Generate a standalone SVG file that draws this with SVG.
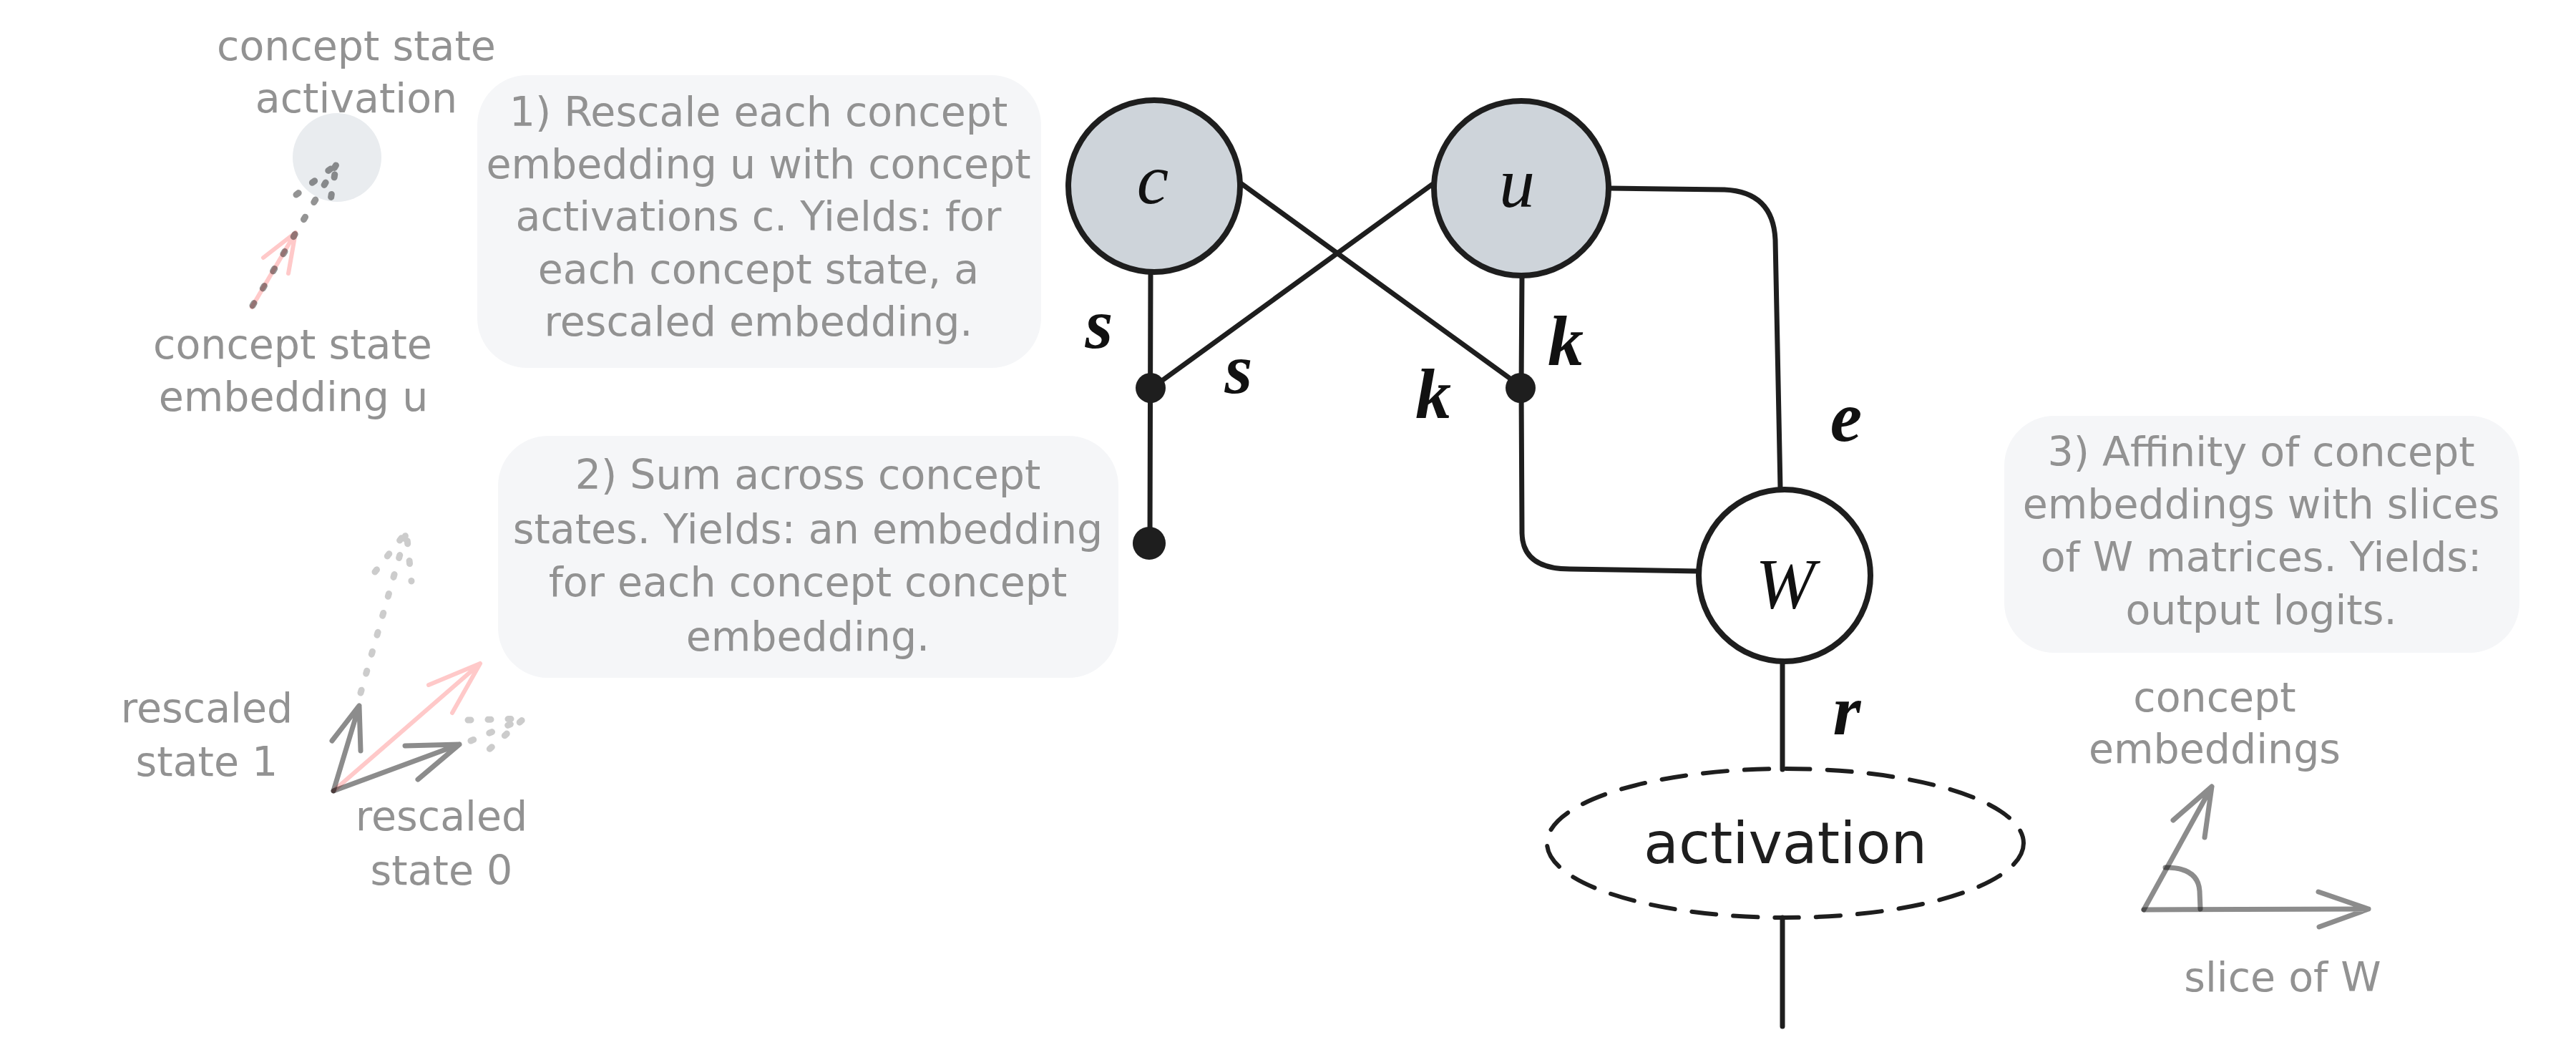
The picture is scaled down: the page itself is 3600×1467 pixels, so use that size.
<svg xmlns="http://www.w3.org/2000/svg" width="3600" height="1467" viewBox="0 0 3600 1467">
<style>
.note{font-family:"DejaVu Sans","Noto Sans",sans-serif;font-size:57px;fill:#929292;text-anchor:middle}
.big{font-family:"DejaVu Sans","Noto Sans",sans-serif;font-size:80px;fill:#1e1e1e;text-anchor:middle}
.box{fill:#f5f6f8;stroke:none}
.ln{fill:none;stroke:#1e1e1e;stroke-width:7;stroke-linecap:round;stroke-linejoin:round}
.node{stroke:#1e1e1e;stroke-width:8}
.dot{fill:#1e1e1e}
.math{font-family:"Liberation Serif","DejaVu Serif",serif;font-style:italic;font-size:100px;fill:#111;text-anchor:middle}
.mb{font-weight:bold}
.vec{fill:none;stroke:#000;stroke-opacity:0.45;stroke-width:7;stroke-linecap:round;stroke-linejoin:round}
.pink{fill:none;stroke:#ff7f7f;stroke-opacity:0.42;stroke-width:6;stroke-linecap:round;stroke-linejoin:round}
.dotsL{fill:none;stroke:#000;stroke-opacity:0.2;stroke-width:9;stroke-linecap:round;stroke-dasharray:4 24}
.dotsD{fill:none;stroke:#000;stroke-opacity:0.42;stroke-width:9;stroke-linecap:round;stroke-dasharray:4 24}
</style>

<g id="sketch-activation">
  <circle cx="471" cy="220" r="62" fill="#e9ecef"/>
  <path class="pink" d="M352,429 L413,325 M368,360 L413,325 L403,382"/>
  <path class="dotsD" d="M353,427 L470,230 M414,272 L470,230 L459,298"/>
  <text class="note" x="498" y="84">concept state</text>
  <text class="note" x="498" y="157">activation</text>
  <text class="note" x="409" y="501">concept state</text>
  <text class="note" x="410" y="574">embedding u</text>
</g>

<g id="note-1">
  <rect class="box" x="667" y="105" width="788" height="409" rx="70"/>
  <text class="note" x="1060" y="176">1) Rescale each concept</text>
  <text class="note" x="1060" y="249">embedding u with concept</text>
  <text class="note" x="1060" y="322">activations c. Yields: for</text>
  <text class="note" x="1060" y="396">each concept state, a</text>
  <text class="note" x="1060" y="469">rescaled embedding.</text>
</g>

<g id="note-2">
  <rect class="box" x="696" y="609" width="867" height="338" rx="70"/>
  <text class="note" x="1129" y="683">2) Sum across concept</text>
  <text class="note" x="1129" y="759">states. Yields: an embedding</text>
  <text class="note" x="1129" y="833">for each concept concept</text>
  <text class="note" x="1129" y="909">embedding.</text>
</g>

<g id="note-3">
  <rect class="box" x="2801" y="581" width="720" height="331" rx="70"/>
  <text class="note" x="3160" y="651">3) Affinity of concept</text>
  <text class="note" x="3160" y="724">embeddings with slices</text>
  <text class="note" x="3160" y="798">of W matrices. Yields:</text>
  <text class="note" x="3160" y="872">output logits.</text>
</g>

<g id="sketch-sum">
  <path class="dotsL" d="M504,968 L568,743 M524,799 L568,743 L575,812"/>
  <path class="dotsL" d="M654,1006 L732,1004 M658,1035 L732,1004 L678,1052"/>
  <path class="pink" d="M466,1105 L671,927 M599,957 L671,927 L632,996"/>
  <path class="vec" d="M466,1105 L502,986 M464,1035 L502,986 L504,1049"/>
  <path class="vec" d="M466,1105 L642,1040 M566,1042 L642,1040 L584,1089"/>
  <text class="note" x="289" y="1009">rescaled</text>
  <text class="note" x="289" y="1084">state 1</text>
  <text class="note" x="617" y="1160">rescaled</text>
  <text class="note" x="617" y="1236">state 0</text>
</g>

<g id="sketch-affinity">
  <path class="vec" d="M2996,1271 L3310,1270 M3240,1246 L3310,1270 L3241,1295"/>
  <path class="vec" d="M2996,1271 L3091,1099 M3037,1146 L3091,1099 L3081,1170"/>
  <path class="vec" d="M3026,1212 Q3072,1212 3074,1245 L3075,1270"/>
  <text class="note" x="3095" y="994">concept</text>
  <text class="note" x="3095" y="1066">embeddings</text>
  <text class="note" x="3190" y="1385">slice of W</text>
</g>

<g id="connectors">
  <path class="ln" d="M1608,381 L1607,759"/>
  <path class="ln" d="M2001,258 L1625,531"/>
  <path class="ln" d="M1734,256 L2123,538"/>
  <path class="ln" d="M2127,384 L2126,542"/>
  <path class="ln" d="M2126,542 L2127,745 Q2128,795 2194,795 L2372,798"/>
  <path class="ln" d="M2250,263 L2410,265 Q2478,268 2481,335 L2488,682"/>
  <path class="ln" d="M2491,926 L2491,1075"/>
  <path class="ln" d="M2491,1282 L2491,1434"/>
  <circle class="dot" cx="1608" cy="542" r="21"/>
  <circle class="dot" cx="2125" cy="542" r="21"/>
  <circle class="dot" cx="1606" cy="759" r="23"/>
  <text class="math mb" x="1536" y="486">s</text>
  <text class="math mb" x="1731" y="549">s</text>
  <text class="math mb" x="2003" y="584">k</text>
  <text class="math mb" x="2188" y="510">k</text>
  <text class="math mb" x="2580" y="616">e</text>
  <text class="math mb" x="2581" y="1026">r</text>
</g>

<g id="node-c">
  <circle class="node" cx="1613" cy="260" r="120" fill="#ced4da"/>
  <text class="math" x="1611" y="284" font-size="108">c</text>
</g>

<g id="node-u">
  <circle class="node" cx="2126" cy="263" r="122" fill="#ced4da"/>
  <text class="math" x="2120" y="289" font-size="108">u</text>
</g>

<g id="node-W">
  <circle class="node" cx="2494" cy="804" r="120" fill="#ffffff"/>
  <text class="math" x="2495" y="849" font-size="112">W</text>
</g>

<g id="node-activation">
  <ellipse cx="2495" cy="1178" rx="333" ry="104" fill="none" stroke="#1e1e1e" stroke-width="6" stroke-dasharray="34 24" stroke-linecap="round"/>
  <text class="big" x="2495" y="1206">activation</text>
</g>
</svg>
